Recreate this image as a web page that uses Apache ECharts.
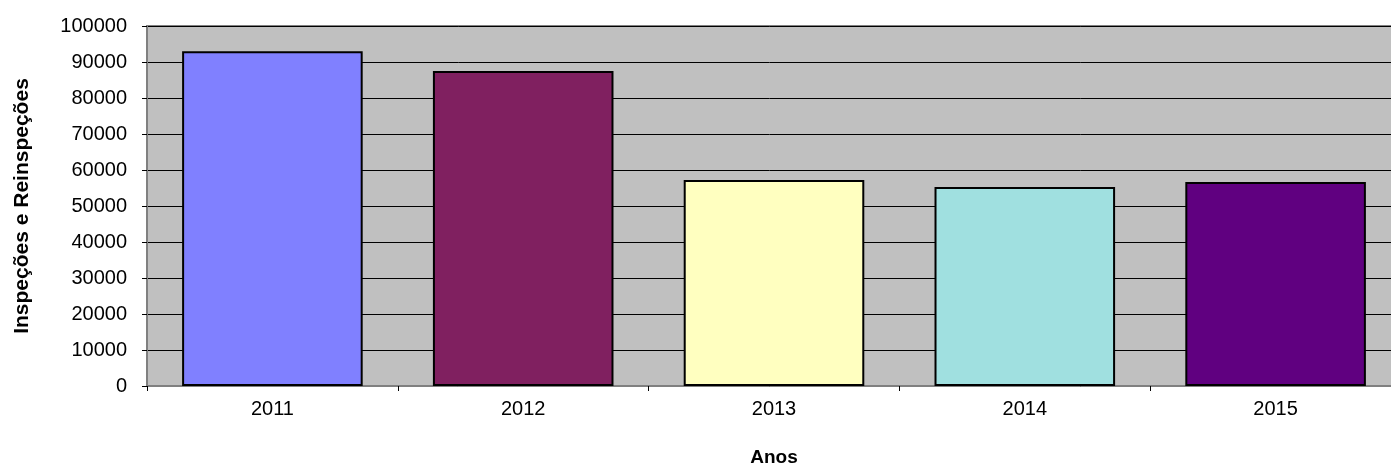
<!DOCTYPE html>
<html><head><meta charset="utf-8">
<script src="https://cdn.jsdelivr.net/npm/echarts@6/dist/echarts.min.js"></script>
<style>html,body{margin:0;padding:0;background:#fff}#c{width:1391px;height:466px}</style>
</head><body><div id="c"></div>
<script>
const categories = ['2011', '2012', '2013', '2014', '2015'];
const values = [93000, 87500, 57200, 55300, 56700];
const barColors = ['#8080FF', '#802060', '#FFFFC0', '#A0E0E0', '#600080'];
const yTicks = [0, 10000, 20000, 30000, 40000, 50000, 60000, 70000, 80000, 90000, 100000];

const chart = echarts.init(document.getElementById('c'), null, {renderer: 'canvas'});
const font = 'Liberation Sans, Arial, sans-serif';
chart.setOption({
  animation: false,
  grid: {left: 147, right: -10, top: 26, bottom: 80, show: true, backgroundColor: '#C0C0C0', borderColor: '#808080', borderWidth: 2, containLabel: false, outerBoundsMode: 'none'},
  xAxis: {
    type: 'category', data: categories,
    name: 'Anos', nameLocation: 'middle', nameGap: 62,
    nameTextStyle: {fontFamily: font, fontSize: 19, fontWeight: 'bold', color: '#000'},
    axisLine: {lineStyle: {color: '#808080', width: 1}},
    axisTick: {show: true, length: 5, lineStyle: {color: '#000'}},
    axisLabel: {fontFamily: font, fontSize: 20, color: '#000', margin: 13}
  },
  yAxis: {
    type: 'value', min: yTicks[0], max: yTicks[yTicks.length - 1], interval: 10000,
    name: 'Inspeções e Reinspeções', nameLocation: 'middle', nameGap: 114,
    nameTextStyle: {fontFamily: font, fontSize: 21, fontWeight: 'bold', color: '#000'},
    axisLine: {show: true, lineStyle: {color: '#808080', width: 2}},
    axisTick: {show: true, length: 5, lineStyle: {color: '#000'}},
    axisLabel: {fontFamily: font, fontSize: 20, color: '#000', margin: 20, formatter: v => String(v)},
    splitLine: {show: true, lineStyle: {color: '#000', width: 1}}
  },
  series: [{
    type: 'bar', data: values.map((v, i) => ({value: v, itemStyle: {color: barColors[i]}})),
    barCategoryGap: '28%',
    itemStyle: {borderColor: '#000', borderWidth: 2}
  }]
});
</script></body></html>
